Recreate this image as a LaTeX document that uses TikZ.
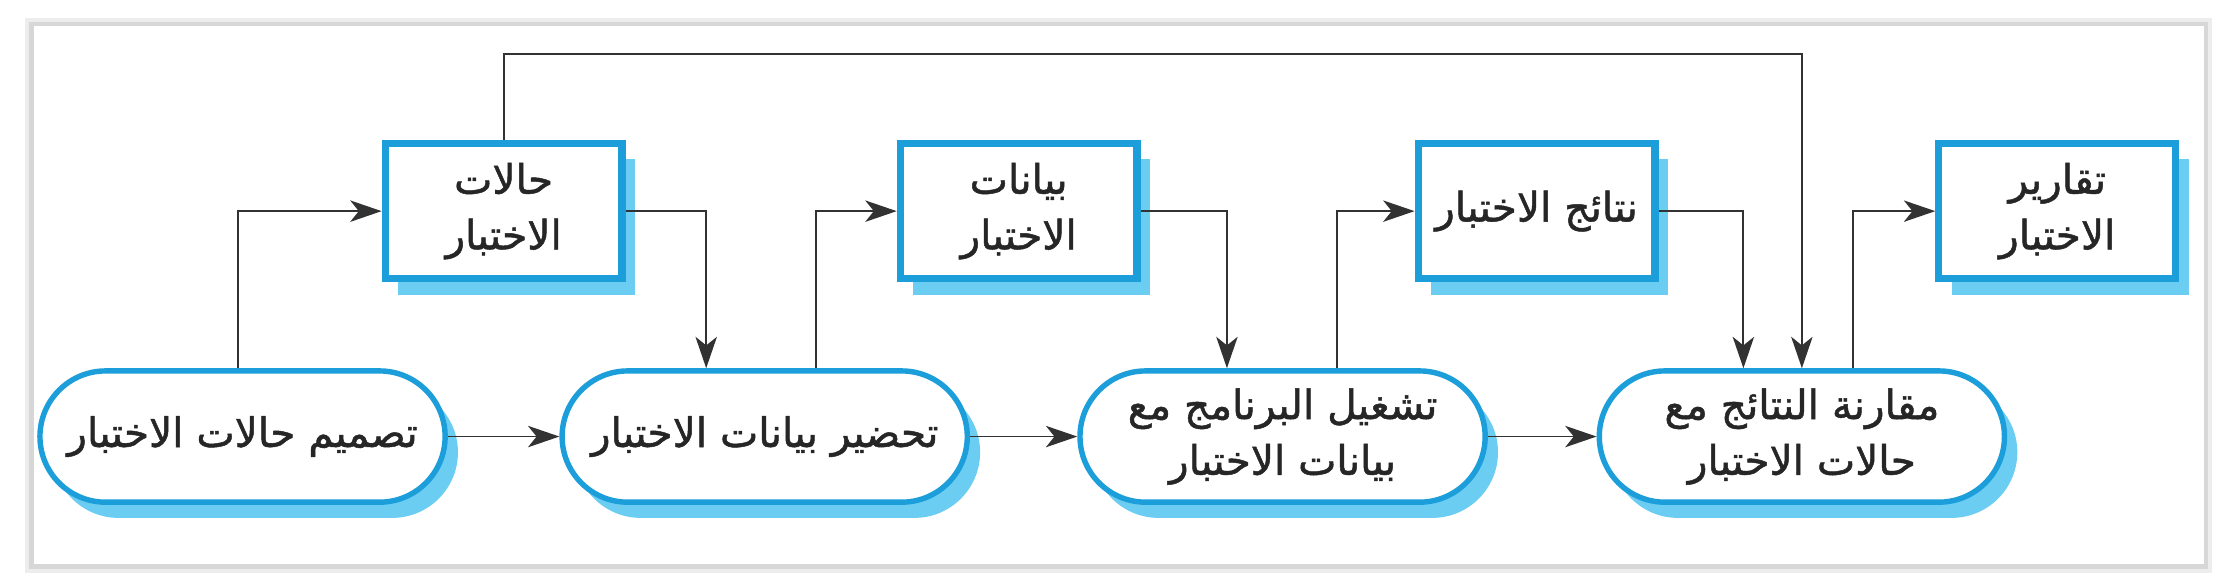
\documentclass[tikz,border=0pt]{standalone}
\usepackage{fontspec}
\usetikzlibrary{arrows.meta,shadows}
\newfontfamily\arabicfont[Script=Arabic,FakeBold=1.2]{DejaVu Sans}
\TeXXeTstate=1
\definecolor{bordblue}{RGB}{27,158,218}
\definecolor{shadblue}{RGB}{108,205,243}
\definecolor{linegray}{RGB}{50,50,50}
\definecolor{framegray}{RGB}{215,215,215}
\newcommand{\artxt}[1]{\beginR #1\endR}
\begin{document}
\begin{tikzpicture}[x=1pt,y=-1pt,
  txt/.style={font=\arabicfont\fontsize{28.5}{39}\selectfont, text=black!85, align=center},
  databox/.style={txt, draw=bordblue, line width=5pt, fill=white,
    minimum width=166pt, minimum height=95pt, inner sep=0pt,
    drop shadow={shadow xshift=9pt, shadow yshift=-11pt, fill=shadblue, opacity=1}},
  procbox/.style={txt, draw=bordblue, line width=3.8pt, fill=white, rounded corners=46pt,
    minimum width=284pt, minimum height=92pt, inner sep=0pt,
    drop shadow={shadow xshift=9pt, shadow yshift=-11pt, fill=shadblue, opacity=1}},
  conn/.style={draw=linegray, line width=1.3pt, -{Stealth[length=22pt,width=15pt,inset=6pt]}}
]
\useasboundingbox (0,0) rectangle (1568,411);
\fill[white] (0,0) rectangle (1568,411);
\draw[framegray!45, line width=9pt] (22,17) rectangle (1546,397);
\draw[framegray, line width=3pt] (22,17) rectangle (1546,397);
\fill[white] (23.5,18.5) rectangle (1544.5,395.5);

\node[procbox] (O1) at (170,306) {\artxt{تصميم حالات الاختبار}};
\node[procbox] (O2) at (536,306) {\artxt{تحضير بيانات الاختبار}};
\node[procbox] (O3) at (899,306) {\artxt{تشغيل البرنامج مع}\\\artxt{بيانات الاختبار}};
\node[procbox] (O4) at (1263,306) {\artxt{مقارنة النتائج مع}\\\artxt{حالات الاختبار}};

\node[databox] (B1) at (353,148) {\artxt{حالات}\\\artxt{الاختبار}};
\node[databox] (B2) at (714,148) {\artxt{بيانات}\\\artxt{الاختبار}};
\node[databox] (B3) at (1077,148) {\artxt{نتائج الاختبار}};
\node[databox] (B4) at (1442,148) {\artxt{تقارير}\\\artxt{الاختبار}};

\coordinate (top) at (0,38);

\draw[conn] (O1.east) -- (O2.west);
\draw[conn] (O2.east) -- (O3.west);
\draw[conn] (O3.east) -- (O4.west);

\draw[conn] ([xshift=-3pt]O1.north) |- (B1.west);
\draw[conn] (B1.east) -| ([xshift=-41pt]O2.north);
\draw[conn] ([xshift=36pt]O2.north) |- (B2.west);
\draw[conn] (B2.east) -| ([xshift=-39pt]O3.north);
\draw[conn] ([xshift=38pt]O3.north) |- (B3.west);
\draw[conn] (B3.east) -| ([xshift=-41pt]O4.north);
\draw[conn] ([xshift=36pt]O4.north) |- (B4.west);
\draw[conn] (B1.north) -- (B1.north |- top) -| (O4.north);
\end{tikzpicture}
\end{document}
